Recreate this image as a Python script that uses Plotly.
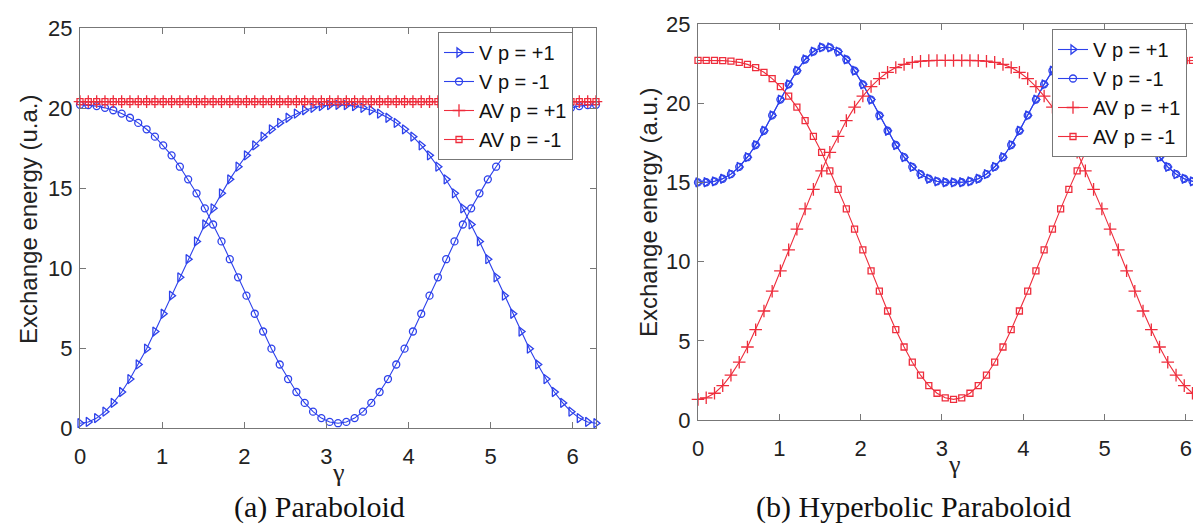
import plotly.graph_objects as go

# ---------------- data ----------------
gamma = [0.000, 0.101, 0.203, 0.304, 0.405, 0.507, 0.608, 0.709, 0.811, 0.912,
         1.013, 1.115, 1.216, 1.317, 1.419, 1.520, 1.621, 1.723, 1.824, 1.925,
         2.027, 2.128, 2.230, 2.331, 2.432, 2.534, 2.635, 2.736, 2.838, 2.939,
         3.040, 3.142, 3.243, 3.344, 3.446, 3.547, 3.648, 3.750, 3.851, 3.952,
         4.054, 4.155, 4.256, 4.358, 4.459, 4.560, 4.662, 4.763, 4.864, 4.966,
         5.067, 5.168, 5.270, 5.371, 5.472, 5.574, 5.675, 5.776, 5.878, 5.979,
         6.080, 6.182, 6.283]

# (a) Paraboloid
a_V_p1 = [0.30, 0.38, 0.62, 1.02, 1.57, 2.25, 3.06, 3.97, 4.96, 6.03, 7.14, 8.27, 9.42, 10.55,
          11.66, 12.72, 13.73, 14.67, 15.54, 16.33, 17.04, 17.66, 18.21, 18.67, 19.07, 19.39,
          19.65, 19.86, 20.01, 20.12, 20.18, 20.20,
          20.18, 20.12, 20.01, 19.86, 19.65, 19.39, 19.07, 18.67, 18.21, 17.66, 17.04, 16.33,
          15.54, 14.67, 13.73, 12.72, 11.66, 10.55, 9.42, 8.27, 7.14, 6.03, 4.96, 3.97, 3.06,
          2.25, 1.57, 1.02, 0.62, 0.38, 0.30]
a_V_m1 = [20.20, 20.18, 20.12, 20.01, 19.86, 19.65, 19.39, 19.07, 18.67, 18.21, 17.66, 17.04,
          16.33, 15.54, 14.67, 13.73, 12.72, 11.66, 10.55, 9.42, 8.27, 7.14, 6.03, 4.96, 3.97,
          3.06, 2.25, 1.57, 1.02, 0.62, 0.38, 0.30,
          0.38, 0.62, 1.02, 1.57, 2.25, 3.06, 3.97, 4.96, 6.03, 7.14, 8.27, 9.42, 10.55, 11.66,
          12.72, 13.73, 14.67, 15.54, 16.33, 17.04, 17.66, 18.21, 18.67, 19.07, 19.39, 19.65,
          19.86, 20.01, 20.12, 20.18, 20.20]
a_AV_p1 = [20.4, 20.4, 20.4, 20.4, 20.4, 20.4, 20.4, 20.4, 20.4, 20.4, 20.4, 20.4, 20.4, 20.4,
           20.4, 20.4, 20.4, 20.4, 20.4, 20.4, 20.4, 20.4, 20.4, 20.4, 20.4, 20.4, 20.4, 20.4,
           20.4, 20.4, 20.4, 20.4, 20.4, 20.4, 20.4, 20.4, 20.4, 20.4, 20.4, 20.4, 20.4, 20.4,
           20.4, 20.4, 20.4, 20.4, 20.4, 20.4, 20.4, 20.4, 20.4, 20.4, 20.4, 20.4, 20.4, 20.4,
           20.4, 20.4, 20.4, 20.4, 20.4, 20.4, 20.4]
a_AV_m1 = [20.4, 20.4, 20.4, 20.4, 20.4, 20.4, 20.4, 20.4, 20.4, 20.4, 20.4, 20.4, 20.4, 20.4,
           20.4, 20.4, 20.4, 20.4, 20.4, 20.4, 20.4, 20.4, 20.4, 20.4, 20.4, 20.4, 20.4, 20.4,
           20.4, 20.4, 20.4, 20.4, 20.4, 20.4, 20.4, 20.4, 20.4, 20.4, 20.4, 20.4, 20.4, 20.4,
           20.4, 20.4, 20.4, 20.4, 20.4, 20.4, 20.4, 20.4, 20.4, 20.4, 20.4, 20.4, 20.4, 20.4,
           20.4, 20.4, 20.4, 20.4, 20.4, 20.4, 20.4]

# (b) Hyperbolic Paraboloid
b_V_p1 = [15.00, 15.01, 15.07, 15.23, 15.52, 15.98, 16.59, 17.36, 18.26, 19.23, 20.23, 21.19,
          22.05, 22.76, 23.26, 23.52, 23.52, 23.26, 22.76, 22.05, 21.19, 20.23, 19.23, 18.26,
          17.36, 16.59, 15.98, 15.52, 15.23, 15.07, 15.01, 15.00,
          15.01, 15.07, 15.23, 15.52, 15.98, 16.59, 17.36, 18.26, 19.23, 20.23, 21.19, 22.05,
          22.76, 23.26, 23.52, 23.52, 23.26, 22.76, 22.05, 21.19, 20.23, 19.23, 18.26, 17.36,
          16.59, 15.98, 15.52, 15.23, 15.07, 15.01, 15.00]
b_V_m1 = [15.00, 15.01, 15.07, 15.23, 15.52, 15.98, 16.59, 17.36, 18.26, 19.23, 20.23, 21.19,
          22.05, 22.76, 23.26, 23.52, 23.52, 23.26, 22.76, 22.05, 21.19, 20.23, 19.23, 18.26,
          17.36, 16.59, 15.98, 15.52, 15.23, 15.07, 15.01, 15.00,
          15.01, 15.07, 15.23, 15.52, 15.98, 16.59, 17.36, 18.26, 19.23, 20.23, 21.19, 22.05,
          22.76, 23.26, 23.52, 23.52, 23.26, 22.76, 22.05, 21.19, 20.23, 19.23, 18.26, 17.36,
          16.59, 15.98, 15.52, 15.23, 15.07, 15.01, 15.00]
b_AV_p1 = [1.30, 1.40, 1.69, 2.17, 2.83, 3.65, 4.61, 5.70, 6.88, 8.13, 9.42, 10.74, 12.05,
           13.33, 14.56, 15.73, 16.90, 17.90, 18.90, 19.75, 20.45, 21.05, 21.55, 21.95, 22.25,
           22.45, 22.58, 22.65, 22.69, 22.70, 22.70, 22.70,
           22.70, 22.70, 22.69, 22.65, 22.58, 22.45, 22.25, 21.95, 21.55, 21.05, 20.45, 19.75,
           18.90, 17.90, 16.90, 15.73, 14.56, 13.33, 12.05, 10.74, 9.42, 8.13, 6.88, 5.70, 4.61,
           3.65, 2.83, 2.17, 1.69, 1.40, 1.30]
b_AV_m1 = [22.70, 22.70, 22.70, 22.69, 22.65, 22.58, 22.45, 22.25, 21.95, 21.55, 21.05, 20.45,
           19.75, 18.90, 17.90, 16.90, 15.73, 14.56, 13.33, 12.05, 10.74, 9.42, 8.13, 6.88, 5.70,
           4.61, 3.65, 2.83, 2.17, 1.69, 1.40, 1.30,
           1.40, 1.69, 2.17, 2.83, 3.65, 4.61, 5.70, 6.88, 8.13, 9.42, 10.74, 12.05, 13.33,
           14.56, 15.73, 16.90, 17.90, 18.90, 19.75, 20.45, 21.05, 21.55, 21.95, 22.25, 22.45,
           22.58, 22.65, 22.69, 22.70, 22.70, 22.70]

series_names = ["V p = +1", "V p = -1", "AV p = +1", "AV p = -1"]
x_ticks = [0, 1, 2, 3, 4, 5, 6]
y_ticks = [0, 5, 10, 15, 20, 25]
x_max = 6.2832
y_max = 25

# ---------------- style ----------------
W, H = 1201, 531
BLUE = "rgb(45,65,235)"
RED = "rgb(238,45,60)"
SANS = "Liberation Sans, Arial, sans-serif"
SERIF = "Liberation Serif, Times New Roman, serif"
styles = [
    (BLUE, "triangle-right-open", 8),
    (BLUE, "circle-open", 7),
    (RED, "cross-thin-open", 9),
    (RED, "square-open", 6),
]

fig = go.Figure()
panels = [
    ([a_V_p1, a_V_m1, a_AV_p1, a_AV_m1], "x", "y", "legend"),
    ([b_V_p1, b_V_m1, b_AV_p1, b_AV_m1], "x2", "y2", "legend2"),
]
for data, xa, ya, lg in panels:
    for name, vals, (col, sym, sz) in zip(series_names, data, styles):
        fig.add_trace(go.Scatter(
            x=gamma, y=vals, name=name, mode="lines+markers",
            line=dict(color=col, width=1.1),
            marker=dict(symbol=sym, size=sz, color=col, line=dict(color=col, width=1.3)),
            xaxis=xa, yaxis=ya, legend=lg, cliponaxis=False,
        ))

def px_x(p):
    return p / W

def px_y(p):
    return 1 - p / H

axis_common = dict(
    showgrid=False, zeroline=False, showline=True, linecolor="#777", linewidth=1,
    mirror="ticks", ticks="inside", ticklen=6, tickcolor="#777", tickwidth=1,
    tickfont=dict(family=SANS, size=22, color="#222"), automargin=False,
)

legend_common = dict(
    xanchor="left", yanchor="top", bgcolor="white", bordercolor="#777", borderwidth=1,
    font=dict(family=SANS, size=20, color="#111"), tracegroupgap=0,
)

fig.update_layout(
    width=W, height=H,
    margin=dict(l=0, r=0, t=0, b=0),
    paper_bgcolor="white", plot_bgcolor="white",
    xaxis=dict(domain=[px_x(72), px_x(588)], range=[0, x_max], tickvals=x_ticks,
               anchor="y", ticklabelstandoff=9, **axis_common),
    yaxis=dict(domain=[px_y(420), px_y(20)], range=[0, y_max], tickvals=y_ticks,
               anchor="x", ticklabelstandoff=2, **axis_common),
    xaxis2=dict(domain=[px_x(690), 1.0], range=[0, x_max], tickvals=x_ticks,
                anchor="y2", ticklabelstandoff=9, **axis_common),
    yaxis2=dict(domain=[px_y(412), px_y(16)], range=[0, y_max], tickvals=y_ticks,
                anchor="x2", ticklabelstandoff=2, **axis_common),
    legend=dict(x=px_x(430), y=px_y(24), **legend_common),
    legend2=dict(x=px_x(1044), y=px_y(21), **legend_common),
    showlegend=True,
)

annots = [
    dict(text="Exchange energy (u.a.)", x=px_x(21), y=px_y(212), textangle=-90,
         font=dict(family=SANS, size=24, color="#222")),
    dict(text="Exchange energy (a.u.)", x=px_x(640), y=px_y(205), textangle=-90,
         font=dict(family=SANS, size=24, color="#222")),
    dict(text="γ", x=px_x(330), y=px_y(464),
         font=dict(family=SERIF, size=26, color="#222")),
    dict(text="γ", x=px_x(946), y=px_y(456),
         font=dict(family=SERIF, size=26, color="#222")),
    dict(text="(a) Paraboloid", x=px_x(311), y=px_y(499),
         font=dict(family=SERIF, size=30, color="#111")),
    dict(text="(b) Hyperbolic Paraboloid", x=px_x(905), y=px_y(499),
         font=dict(family=SERIF, size=30, color="#111")),
]
for a in annots:
    fig.add_annotation(xref="paper", yref="paper", showarrow=False,
                       xanchor="center", yanchor="middle", **a)

fig.write_html("out.html")
